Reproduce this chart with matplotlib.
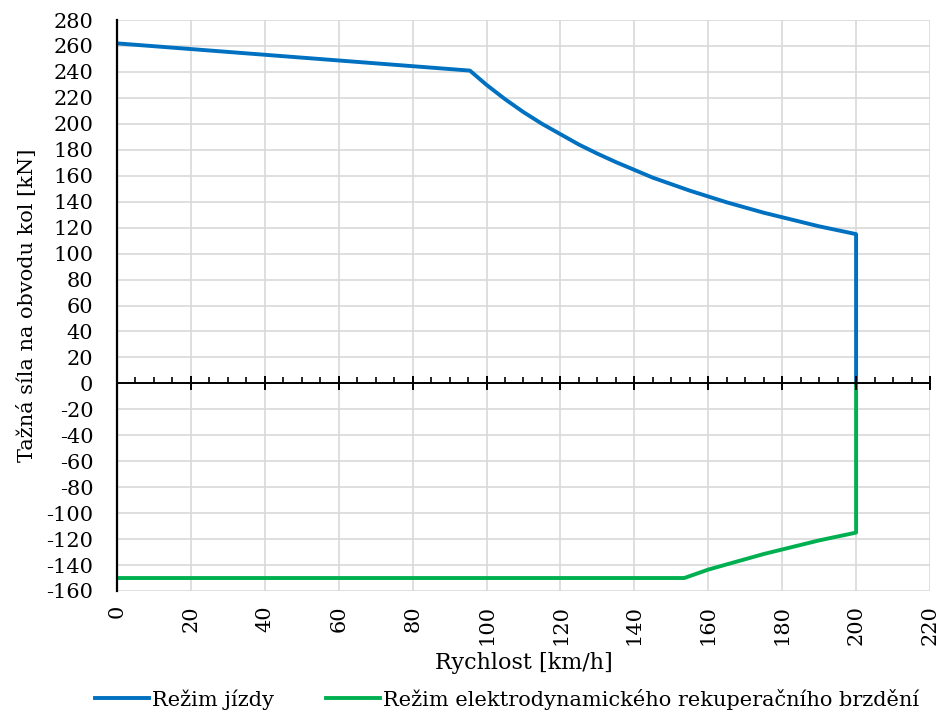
import matplotlib
matplotlib.use("Agg")
import matplotlib.pyplot as plt
import numpy as np

plt.rcParams["font.family"] = ["DejaVu Serif"]
plt.rcParams["axes.unicode_minus"] = False

# Tractive effort curve (driving mode)
speed_drive = [0, 95.5, 100, 105, 110, 115, 120, 125, 130, 135, 140, 145, 150,
               155, 160, 165, 170, 175, 180, 185, 190, 195, 200, 200]
force_drive = [262, 241, 230, 219, 209, 200, 192, 184, 177, 170.5, 164.5, 158.5, 153.5,
               148.5, 144, 139.5, 135.5, 131.5, 128, 124.5, 121, 118, 115, 0]

# Electrodynamic regenerative braking curve
speed_brake = [0, 153.5, 155, 160, 165, 170, 175, 180, 185, 190, 195, 200, 200]
force_brake = [-150, -150, -148.5, -143.5, -139.5, -135.5, -131.5, -128, -124.5,
               -121, -118, -115, 0]

x_ticks = list(range(0, 221, 20))
y_ticks = list(range(-160, 281, 20))
x_tick_labels = [str(v) for v in x_ticks]
y_tick_labels = [str(v) for v in y_ticks]
x_minor = [v for v in range(0, 221, 5) if v % 20 != 0]

label_drive = "Režim jízdy"
label_brake = "Režim elektrodynamického rekuperačního brzdění"

blue = "#0070C0"
green = "#00B050"
grid_col = "#D9D9D9"

fig = plt.figure(figsize=(9.45, 7.15), dpi=100)
ax = fig.add_axes([117 / 945, 1 - 591 / 715, (930 - 117) / 945, (591 - 20) / 715])

ax.set_xlim(0, 220)
ax.set_ylim(-160, 280)
ax.set_xticks(x_ticks)
ax.set_xticklabels(x_tick_labels, rotation=90, va="top", ha="center")
ax.set_yticks(y_ticks)
ax.set_yticklabels(y_tick_labels)
ax.tick_params(axis="x", length=0, pad=10, labelsize=15)
ax.tick_params(axis="y", length=0, pad=17, labelsize=15)

ax.grid(True, color=grid_col, lw=1.2, zorder=0)
ax.set_axisbelow(True)
for side in ("top", "right", "bottom"):
    ax.spines[side].set_visible(False)
ax.spines["left"].set_color("black")
ax.spines["left"].set_linewidth(1.6)
ax.spines["left"].set_zorder(5)

# Horizontal axis drawn through zero with crossing major ticks and upward minor ticks
ax.axhline(0, color="black", lw=1.4, zorder=4)
ax.plot(x_ticks, np.zeros(len(x_ticks)), linestyle="none", marker="|",
        markersize=10.5, markeredgewidth=1.4, color="black", zorder=4, clip_on=False)
ax.plot(x_minor, np.zeros(len(x_minor)), linestyle="none", marker=2,
        markersize=4.5, markeredgewidth=1.2, color="black", zorder=4)

l1, = ax.plot(speed_drive, force_drive, color=blue, lw=2.8, zorder=3,
              solid_joinstyle="round", label=label_drive)
l2, = ax.plot(speed_brake, force_brake, color=green, lw=2.8, zorder=3,
              solid_joinstyle="round", label=label_brake)

ax.set_xlabel("Rychlost [km/h]", fontsize=16)
ax.xaxis.set_label_coords(0.5, (591 - 663) / 571)
ax.xaxis.label.set_va("center")
ax.set_ylabel("Tažná síla na obvodu kol [kN]", fontsize=15)
ax.yaxis.set_label_coords((27 - 117) / 813, 0.5)
ax.yaxis.label.set_va("center")

fig.legend(handles=[l1, l2], loc="center", bbox_to_anchor=(507 / 945, 1 - 699 / 715),
           ncol=2, frameon=False, fontsize=15, handlelength=2.6, handletextpad=0.15,
           columnspacing=2.5, borderaxespad=0, borderpad=0)

fig.savefig("out.png", dpi=100)
